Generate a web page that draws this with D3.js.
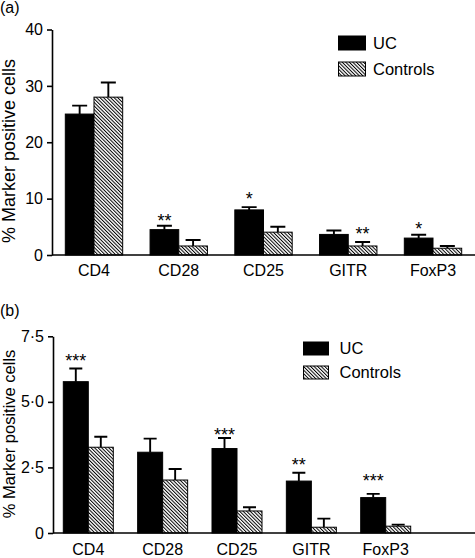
<!DOCTYPE html>
<html><head><meta charset="utf-8">
<script src="https://cdn.jsdelivr.net/npm/d3@7"></script>
<style>
html,body{margin:0;padding:0;background:#fff;}
svg text{font-family:"Liberation Sans",Arial,sans-serif;fill:#000;}
</style></head>
<body>
<svg id="chart" width="475" height="558"></svg>
<script>
// ---- data ----
const categories = ["CD4","CD28","CD25","GITR","FoxP3"];
const series = ["UC","Controls"];
// panel (a)
const ucA = [25.0, 4.5, 8.0, 3.65, 3.0];
const ucErrA = [1.5, 0.7, 0.5, 0.7, 0.6];
const ctlA = [28.0, 1.6, 4.05, 1.6, 1.2];
const ctlErrA = [2.6, 1.05, 0.95, 0.7, 0.4];
const ticksA = [0, 10, 20, 30, 40];
const tickLabelsA = ["0","10","20","30","40"];
const sigA = [ // [category, series, label, y-value]
  ["CD28","UC","**",6.7],["CD25","UC","*",10.6],["GITR","Controls","**",4.4],["FoxP3","UC","*",5.4]];
// panel (b)
const ucB = [5.77, 3.08, 3.22, 1.98, 1.35];
const ucErrB = [0.5, 0.52, 0.4, 0.32, 0.14];
const ctlB = [3.27, 2.02, 0.84, 0.22, 0.26];
const ctlErrB = [0.4, 0.42, 0.14, 0.33, 0.06];
const ticksB = [0, 2.5, 5.0, 7.5];
const tickLabelsB = ["0","2·5","5·0","7·5"];
const sigB = [
  ["CD4","UC","***",6.7],["CD25","UC","***",3.9],["GITR","UC","**",2.76],["FoxP3","UC","***",2.15]];
const yTitle = "% Marker positive cells";

const svg = d3.select("#chart");
const defs = svg.append("defs");
const pat = defs.append("pattern").attr("id","hatch").attr("patternUnits","userSpaceOnUse")
  .attr("width",2.5).attr("height",10).attr("patternTransform","rotate(-45)");
pat.append("rect").attr("width",2.5).attr("height",10).attr("fill","#fff");
pat.append("line").attr("x1",0.5).attr("x2",0.5).attr("y1",0).attr("y2",10).attr("stroke","#000").attr("stroke-width",1);

function panel(cfg){
  const g = svg.append("g");
  const y = d3.scaleLinear().domain(cfg.domain).range([cfg.y0, cfg.yTop]);
  const x = d3.scaleBand().domain(categories).range([cfg.x0, cfg.x1])
    .paddingInner(cfg.pi).paddingOuter(cfg.po);
  const xs = d3.scaleBand().domain(series).range([0, x.bandwidth()]);
  // axes
  const yAxis = d3.axisLeft(y).tickValues(cfg.ticks).tickSize(cfg.tickLen).tickSizeOuter(0)
    .tickFormat((d,i)=>cfg.tickLabels[i]);
  const ya = g.append("g").attr("transform",`translate(${cfg.x0},0)`).call(yAxis);
  ya.select(".domain").attr("stroke","#000").attr("stroke-width",1.6);
  ya.selectAll(".tick line").attr("stroke","#000").attr("stroke-width",1.6);
  ya.selectAll(".tick text").attr("font-size",cfg.tfs).attr("x",-cfg.tickLen-4)
    .attr("font-family","Liberation Sans, Arial, sans-serif").attr("fill","#000");
  // bars
  const rows = categories.map((c,i)=>({c, vals:[
    {s:"UC", v:cfg.uc[i], e:cfg.ucErr[i]}, {s:"Controls", v:cfg.ctl[i], e:cfg.ctlErr[i]}]}));
  const grp = g.selectAll(".grp").data(rows).join("g")
    .attr("transform",d=>`translate(${x(d.c)},0)`);
  // error bars
  grp.selectAll(".err").data(d=>d.vals).join("path")
    .attr("d",d=>{const cx=xs(d.s)+xs.bandwidth()/2; const t=y(d.v+d.e);
      return `M${cx},${y(d.v)}V${t}M${cx-cfg.cap/2},${t}H${cx+cfg.cap/2}`;})
    .attr("stroke","#000").attr("stroke-width",1.9).attr("fill","none");
  grp.selectAll(".bar").data(d=>d.vals).join("rect")
    .attr("x",d=>xs(d.s)).attr("width",xs.bandwidth())
    .attr("y",d=>y(d.v)).attr("height",d=>y(0)-y(d.v))
    .attr("fill",d=>d.s==="UC"?"#000":"url(#hatch)")
    .attr("stroke","#000").attr("stroke-width",1);
  // x axis line
  g.append("line").attr("x1",cfg.x0).attr("x2",475).attr("y1",y(0)).attr("y2",y(0))
    .attr("stroke","#000").attr("stroke-width",1.6);
  // category labels
  g.selectAll(".cat").data(categories).join("text")
    .attr("x",d=>x(d)+x.bandwidth()/2).attr("y",cfg.catY)
    .attr("text-anchor","middle").attr("font-size",cfg.fs).text(d=>d);
  // significance
  g.selectAll(".sig").data(cfg.sig).join("text")
    .attr("x",d=>x(d[0])+xs(d[1])+xs.bandwidth()/2)
    .attr("y",d=>y(d[3])+10).attr("text-anchor","middle").attr("font-size",18).text(d=>d[2]);
  // y title
  g.append("text").attr("transform",`translate(${cfg.titleX},${cfg.titleY}) rotate(-90)`)
    .attr("text-anchor","middle").attr("font-size",cfg.titleFs).text(yTitle);
  // panel label
  g.append("text").attr("x",0).attr("y",cfg.labY).attr("font-size",16).text(cfg.label);
  // legend
  const lg = g.append("g");
  series.forEach((s,i)=>{
    lg.append("rect").attr("x",cfg.lgX).attr("y",cfg.lgY[i]).attr("width",cfg.lgW).attr("height",cfg.lgH)
      .attr("fill",s==="UC"?"#000":"url(#hatch)").attr("stroke","#000").attr("stroke-width",1);
    lg.append("text").attr("x",cfg.lgTX).attr("y",cfg.lgY[i]+cfg.lgH-1).attr("font-size",cfg.lgFs).text(s);
  });
}

panel({domain:[0,40], y0:255, yTop:29.5, x0:52, x1:475, pi:0.323, po:0.157,
  ticks:ticksA, tickLabels:tickLabelsA, tickLen:5, fs:16, tfs:16, cap:15,
  uc:ucA, ucErr:ucErrA, ctl:ctlA, ctlErr:ctlErrA, sig:sigA, catY:276,
  titleX:15, titleY:151, titleFs:18, label:"(a)", labY:13,
  lgX:338.5, lgY:[36,62], lgW:27, lgH:14, lgTX:373, lgFs:16.5});
panel({domain:[0,7.5], y0:533, yTop:336.3, x0:53, x1:421, pi:0.3275, po:0.1385,
  ticks:ticksB, tickLabels:tickLabelsB, tickLen:5, fs:16, tfs:16, cap:13,
  uc:ucB, ucErr:ucErrB, ctl:ctlB, ctlErr:ctlErrB, sig:sigB, catY:555,
  titleX:15, titleY:434, titleFs:16.5, label:"(b)", labY:316,
  lgX:303.5, lgY:[342,366], lgW:25, lgH:13, lgTX:339.5, lgFs:16.5});
</script>
</body></html>
